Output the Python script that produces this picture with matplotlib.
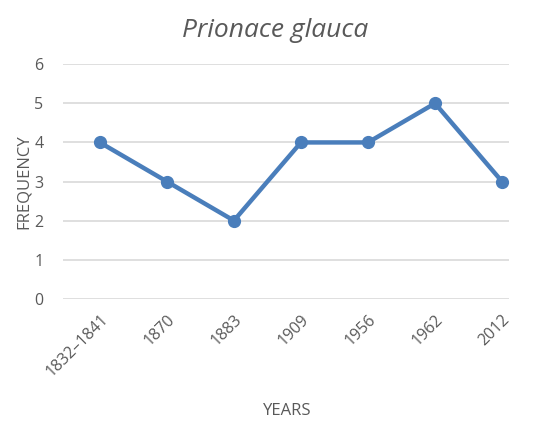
import matplotlib
matplotlib.use('Agg')
import matplotlib.pyplot as plt
import matplotlib.ticker as ticker

# Data
years = ['1832\u20131841', '1870', '1883', '1909', '1956', '1962', '2012']
frequency = [4, 3, 2, 4, 4, 5, 3]

plt.rcParams['font.family'] = ['Open Sans', 'DejaVu Sans']

fig = plt.figure(figsize=(5.5, 4.3), dpi=100)
ax = fig.add_axes([0.1145, 0.3047, 0.8105, 0.5463])

x = range(len(years))
ax.plot(x, frequency, color='#4a7ebb', lw=3.2, marker='o', markersize=8.5,
        solid_capstyle='round', zorder=3, clip_on=False)

# axes formatting
ax.set_xlim(-0.55, 6.1)
ax.set_ylim(-0.005, 6.005)
ax.yaxis.set_major_locator(ticker.MultipleLocator(1))
ax.grid(axis='y', color='#d9d9d9', lw=1.2)
ax.set_axisbelow(True)
for s in ax.spines.values():
    s.set_visible(False)
ax.tick_params(axis='both', length=0, colors='#595959', labelsize=11.5)
ax.tick_params(axis='y', pad=14)
ax.set_xticks(list(x))
ax.set_xticklabels(years, rotation=45, ha='right', rotation_mode='anchor')
ax.tick_params(axis='x', pad=9)

ax.set_ylabel('FREQUENCY', fontsize=12, color='#595959', labelpad=2)
fig.text(0.522, 0.035, 'YEARS', fontsize=12, color='#595959', ha='center')
fig.text(0.5, 0.915, 'Prionace glauca', fontsize=19, style='italic',
         color='#595959', ha='center')

fig.savefig('out.png', dpi=100)
